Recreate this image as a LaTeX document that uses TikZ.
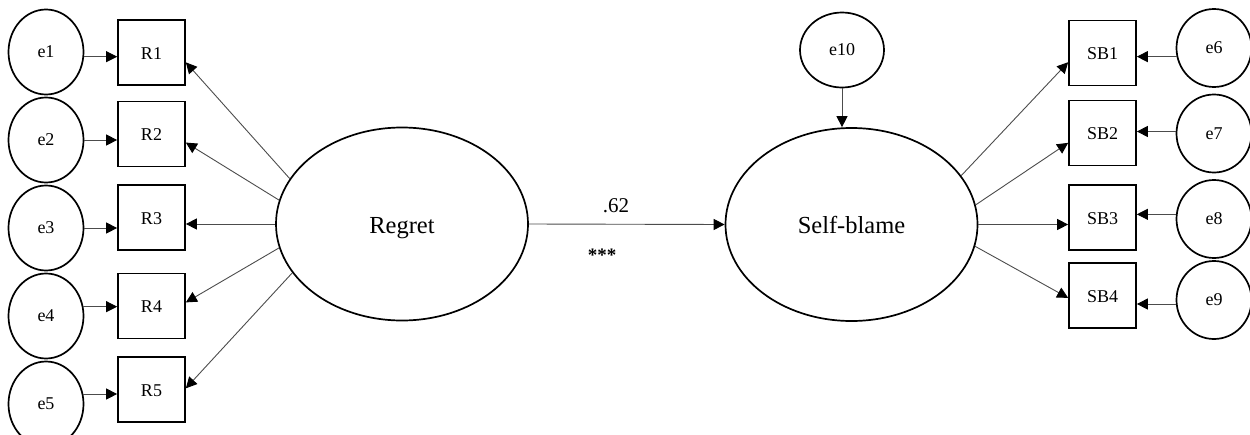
\documentclass[tikz,border=0pt]{standalone}
\usepackage{fontspec}
\setmainfont{Liberation Serif}
\usetikzlibrary{arrows.meta,shapes.geometric}
\begin{document}
\begin{tikzpicture}[x=1pt,y=-1pt,
  errL/.style={draw, line width=1.7pt, ellipse, inner sep=0pt,
    minimum width=75pt, minimum height=85pt, font=\fontsize{18}{18}\selectfont},
  errR/.style={errL, minimum height=78pt},
  obs/.style={draw, line width=1.7pt, rectangle, inner sep=0pt,
    minimum width=67pt, minimum height=65pt, text height=13pt, text depth=0pt,
    font=\fontsize{18}{18}\selectfont},
  latent/.style={draw, line width=1.7pt, ellipse, inner sep=0pt,
    minimum width=252pt, minimum height=193pt, text height=18pt, text depth=0pt,
    font=\fontsize{24.5}{24.5}\selectfont},
  path/.style={draw=black!70, line width=0.9pt,
    -{Triangle[length=11pt,width=11pt,color=black]}},
  coef/.style={font=\fontsize{21}{21}\selectfont, inner sep=0pt}]
\useasboundingbox (0,0) rectangle (1250,434);

% error terms on the left
\node[errL] (e1) at (46,52)  {e1};
\node[errL] (e2) at (46,140) {e2};
\node[errL] (e3) at (46,228) {e3};
\node[errL] (e4) at (46,316) {e4};
\node[errL] (e5) at (46,404) {e5};

% regret indicators
\node[obs] (R1) at (151.5,52.5)  {R1};
\node[obs] (R2) at (151.5,134)   {R2};
\node[obs] (R3) at (151.5,217.5) {R3};
\node[obs] (R4) at (151.5,306)   {R4};
\node[obs] (R5) at (151.5,389.5) {R5};

% latent factors
\node[latent] (Regret) at (402,224) {Regret};
\node[latent] (SelfBlame) at (851.5,224.5) {Self-blame};

% disturbance of the endogenous factor
\node[errL, minimum width=84pt, minimum height=75pt] (e10) at (842,50) {e10};

% self-blame indicators
\node[obs] (SB1) at (1102.5,53)    {SB1};
\node[obs] (SB2) at (1102.5,133)   {SB2};
\node[obs] (SB3) at (1102.5,217.5) {SB3};
\node[obs] (SB4) at (1102.5,295.5) {SB4};

% error terms on the right
\node[errR] (e6) at (1214,48)    {e6};
\node[errR] (e7) at (1214,133.5) {e7};
\node[errR] (e8) at (1214,219)   {e8};
\node[errR] (e9) at (1214,300)   {e9};

% errors into indicators
\draw[path] (e1.-7) -- (e1.-7 -| R1.west);
\draw[path] (e2.east) -- (e2.east -| R2.west);
\draw[path] (e3.east) -- (e3.east -| R3.west);
\draw[path] (e4.14) -- (e4.14 -| R4.west);
\draw[path] (e5.15) -- (e5.15 -| R5.west);

\draw[path] (e6.193) -- (e6.193 -| SB1.east);
\draw[path] (e7.177) -- (e7.177 -| SB2.east);
\draw[path] (e8.173) -- (e8.173 -| SB3.east);
\draw[path] (e9.186) -- (e9.186 -| SB4.east);

% loadings of Regret
\draw[path] (Regret.158) -- (R1.-16.6);
\draw[path] (Regret.169) -- (R2.-14);
\draw[path] (Regret.west) -- (Regret.west -| R3.east);
\draw[path] (Regret.191) -- (R4.6);
\draw[path] (Regret.204) -- (R5.2.5);

% loadings of Self-blame
\draw[path] (SelfBlame.24) -- (SB1.195);
\draw[path] (SelfBlame.9.8) -- (SB2.196.6);
\draw[path] (SelfBlame.east) -- (SelfBlame.east -| SB3.west);
\draw[path] (SelfBlame.-10.2) -- (SB4.184);

% structural path and disturbance
\draw[path] (Regret.east) -- (SelfBlame.west);
\draw[path] (e10.south) -- (e10.south |- SelfBlame.north);

\node[coef] (b) at (616,206) {.62};
\node[coef, font=\bfseries\fontsize{19}{19}\selectfont] (sig) at (602,255) {***};
\end{tikzpicture}
\end{document}
